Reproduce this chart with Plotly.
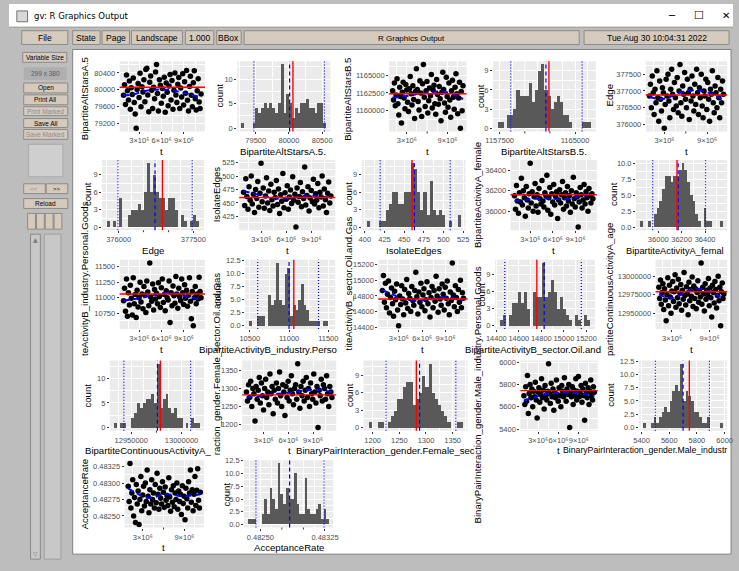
import plotly.graph_objects as go

W, H = 739, 571
FONT = "Liberation Sans, Arial, sans-serif"
TICK_SIZE = 7.5
TITLE_SIZE = 9.6

# ---------------------------------------------------------------- data
T_MILLIONS = [0.90, 1.03, 1.16, 1.29, 1.42, 1.55, 1.68, 1.81, 1.94, 2.07,
              2.20, 2.33, 2.46, 2.59, 2.72, 2.85, 2.98, 3.11, 3.24, 3.37,
              3.50, 3.63, 3.76, 3.89, 4.02, 4.15, 4.28, 4.41, 4.54, 4.67,
              4.80, 4.93, 5.06, 5.19, 5.32, 5.45, 5.58, 5.71, 5.84, 5.97,
              6.10, 6.23, 6.36, 6.49, 6.62, 6.75, 6.88, 7.01, 7.14, 7.27,
              7.40, 7.53, 7.66, 7.79, 7.92, 8.05, 8.18, 8.31, 8.44, 8.57,
              8.70, 8.83, 8.96, 9.09, 9.22, 9.35, 9.48, 9.61, 9.74, 9.87,
              10.00, 10.13, 10.26, 10.39, 10.52, 10.65, 10.78, 10.91, 11.04, 11.17, 11.30]
LOESS_T_MILLIONS = [0.9, 2.2, 3.5, 4.8, 6.1, 7.4, 8.7, 10.0, 11.3]
T_TICKS = [3e6, 6e6, 9e6]
T_LABELS3 = ["3×10⁶", "6×10⁶", "9×10⁶"]
T_LABELS2 = ["3×10⁶", "", "9×10⁶"]

ALT_A = [79870, 80120, 79650, 80350, 79980, 79760, 80210, 79540, 80050, 79890,
         80280, 79700, 79430, 79090, 80010, 80150, 79820, 80390, 79600, 80070,
         79950, 80240, 79720, 80480, 80510, 79880, 79480, 80180, 80330, 79990,
         79560, 80060, 79790, 80420, 80600, 79910, 79500, 80240, 80110, 79680,
         80030, 79850, 80300, 79470, 80160, 79940, 79620, 80090, 80360, 79760,
         80220, 79540, 79990, 80400, 79880, 79700, 80130, 80290, 79560, 80040,
         79830, 80380, 79640, 80190, 79920, 80460, 79750, 79500, 80080, 80320,
         79870, 79600, 80170, 80450, 79790, 79520, 79980, 80260, 79710, 79560, 79900]
ALT_A_LOESS = [79870, 79890, 79960, 80000, 80010, 79990, 79940, 79880, 79820]
ALT_A_TARGET = 80060
ALT_A_YTICKS = [79200, 79600, 80000, 80400]

ALT_B = [1162800, 1161500, 1163900, 1160700, 1162200, 1164500, 1161000, 1159400, 1163300, 1162000,
         1158300, 1162600, 1164000, 1161800, 1160300, 1163700, 1162900, 1161200, 1159900, 1163100,
         1164800, 1162400, 1160800, 1163500, 1161600, 1158900, 1162700, 1165900, 1163000, 1161300,
         1160100, 1164200, 1162500, 1159200, 1163800, 1166500, 1161900, 1160600, 1162800, 1164100,
         1159700, 1161400, 1163200, 1162100, 1165100, 1160400, 1162900, 1163600, 1161000, 1159500,
         1164400, 1162300, 1160900, 1163400, 1161700, 1158600, 1162600, 1165400, 1163000, 1161100,
         1159800, 1164700, 1162000, 1160500, 1163900, 1161500, 1159100, 1162800, 1164300, 1161900,
         1160200, 1163300, 1165200, 1162400, 1159600, 1161800, 1164000, 1157550, 1162700, 1160000, 1163500]
ALT_B_LOESS = [1161850, 1161950, 1162150, 1162400, 1162550, 1162700, 1162650, 1162200, 1161650]
ALT_B_TARGET = 1162400
ALT_B_YTICKS = [1160000, 1162500, 1165000]

EDGE = [376850, 377200, 376500, 377450, 376950, 376300, 377050, 376650, 377600, 376800,
        376100, 377300, 376750, 376400, 377100, 376950, 375890, 376600, 377350, 376850,
        377500, 376700, 376200, 377050, 377650, 376900, 376450, 377250, 376800, 376550,
        377400, 376350, 377000, 377790, 376650, 376250, 377150, 376900, 377550, 376750,
        376500, 377350, 376950, 376150, 377050, 376700, 377450, 376850, 376400, 377200,
        376600, 377650, 376950, 376300, 377100, 376800, 377500, 376550, 376200, 377000,
        376850, 377350, 376450, 377250, 376750, 376100, 377050, 376900, 377600, 376650,
        376350, 377150, 376950, 376500, 377400, 376800, 376200, 377050, 376650, 377300, 376900]
EDGE_LOESS = [376830, 376760, 376800, 376930, 377000, 377020, 376980, 376880, 376720]
EDGE_TARGET = 376880
EDGE_YTICKS = [376000, 376500, 377000, 377500]

ISOLATE = [470, 445, 495, 462, 438, 480, 455, 500, 448, 466,
           432, 475, 458, 490, 442, 468, 524, 452, 478, 440,
           463, 497, 450, 472, 436, 485, 456, 444, 470, 460,
           492, 447, 476, 430, 465, 453, 505, 441, 469, 457,
           482, 438, 461, 474, 449, 499, 455, 466, 405, 478,
           451, 462, 488, 443, 471, 458, 517, 446, 464, 480,
           435, 459, 473, 452, 494, 448, 467, 455, 486, 441,
           470, 461, 500, 444, 476, 456, 432, 468, 489, 450, 463]
ISOLATE_LOESS = [472, 467, 462, 458, 458, 461, 464, 462, 460]
ISOLATE_TARGET = 460
ISOLATE_YTICKS = [425, 450, 475, 500, 525]

FEMALE = [36150, 36020, 36250, 36100, 35980, 36180, 36090, 36320, 36060, 36200,
          36130, 35950, 36240, 36110, 36030, 36170, 36467, 36080, 36190, 36000,
          36140, 36270, 36050, 36160, 35990, 36220, 36120, 36070, 36300, 36100,
          36040, 36180, 36150, 36350, 36010, 36130, 36230, 35970, 36170, 36090,
          36260, 36060, 36140, 36190, 35930, 36110, 36210, 36080, 36160, 36290,
          36020, 36130, 36180, 36050, 36240, 36100, 36150, 35990, 36200, 36070,
          36330, 36120, 36040, 36180, 36140, 35846, 36090, 36230, 36160, 36030,
          36110, 36260, 36070, 36190, 36130, 36000, 36220, 36150, 36080, 36170, 36120]
FEMALE_LOESS = [36100, 36110, 36120, 36125, 36120, 36115, 36130, 36150, 36160]
FEMALE_TARGET = 36160
FEMALE_YTICKS = [36000, 36200, 36400]

PERSONAL = [10950, 11150, 10780, 11300, 10700, 11080, 10880, 11200, 10990, 10720,
            11320, 10900, 11050, 10680, 11120, 10850, 11000, 11250, 10930, 11060,
            10820, 11180, 11040, 10760, 11270, 11090, 10870, 11560, 11010, 10940,
            11220, 10800, 11130, 10980, 11070, 10900, 11240, 11020, 10840, 11160,
            11300, 10920, 11050, 10790, 11110, 11000, 10960, 11270, 10600, 11080,
            10870, 11190, 11030, 10910, 11340, 11060, 10830, 11150, 11010, 10950,
            11300, 11080, 10890, 11210, 10990, 11120, 10860, 11040, 11320, 10940,
            10660, 11100, 10545, 11000, 11180, 10900, 11060, 10980, 11330, 11100, 11000]
PERSONAL_LOESS = [10950, 10975, 11000, 11040, 11070, 11075, 11040, 11000, 10965]
PERSONAL_TARGET = 11060
PERSONAL_YTICKS = [10750, 11000, 11250, 11500]

OIL = [14870, 15060, 14720, 14960, 14650, 14820, 14990, 14580, 14780, 14900,
       14700, 14540, 14860, 14750, 14950, 14620, 14418, 14800, 14690, 14930,
       14760, 14560, 14880, 14710, 15010, 14640, 14830, 14770, 14600, 14920,
       14740, 14680, 14870, 15100, 14790, 14570, 14850, 14720, 14960, 14660,
       14810, 14890, 14610, 14750, 14980, 14700, 14840, 14530, 14780, 14920,
       14650, 14870, 14730, 15050, 14800, 14590, 14890, 14760, 14680, 14950,
       14820, 14620, 14910, 14770, 14990, 14700, 14560, 14850, 14740, 15220,
       14810, 14660, 14930, 14780, 14600, 14880, 14720, 15000, 14650, 14840, 14770]
OIL_LOESS = [14870, 14820, 14760, 14740, 14745, 14760, 14780, 14770, 14745]
OIL_TARGET = 14760
OIL_YTICKS = [14400, 14600, 14800, 15000, 15200]

AGE = [12985000, 12970000, 12995000, 12962000, 12978000, 12990000, 12955000, 12983000, 12968000, 12940000,
       12975000, 12998000, 12960000, 12988000, 12972000, 12950000, 12980000, 12993000, 12966000, 12979000,
       13002000, 12958000, 12984000, 12971000, 12996000, 12963000, 12977000, 12989000, 12954000, 12981000,
       12969000, 13005000, 12974000, 12961000, 12986000, 12976000, 12948000, 12992000, 12967000, 12982000,
       12973000, 12999000, 12959000, 12987000, 12970000, 12983000, 12956000, 12978000, 12994000, 12965000,
       12980000, 12972000, 13018000, 12962000, 12985000, 12976000, 12953000, 12990000, 12969000, 12981000,
       12975000, 12997000, 12960000, 12984000, 12971000, 12945000, 12988000, 12978000, 12964000, 12993000,
       12982000, 12957000, 12974000, 13000000, 12967000, 12985000, 12933000, 12979000, 12991000, 12970000, 12976000]
AGE_LOESS = [12975500, 12971500, 12971000, 12977000, 12982000, 12983000, 12980000, 12975000, 12970500]
AGE_TARGET = 12979000
AGE_YTICKS = [12950000, 12975000, 13000000]

FEM_SEC = [1290, 1265, 1310, 1275, 1320, 1250, 1300, 1285, 1210, 1305,
           1270, 1295, 1330, 1260, 1315, 1280, 1240, 1300, 1325, 1275,
           1290, 1255, 1340, 1285, 1305, 1230, 1295, 1270, 1315, 1260,
           1300, 1345, 1280, 1250, 1310, 1290, 1225, 1305, 1275, 1320,
           1265, 1295, 1335, 1285, 1255, 1300, 1310, 1270, 1368, 1290,
           1245, 1305, 1280, 1320, 1265, 1295, 1330, 1275, 1300, 1250,
           1315, 1285, 1270, 1340, 1290, 1260, 1305, 1192, 1295, 1280,
           1325, 1265, 1310, 1300, 1270, 1335, 1285, 1250, 1305, 1290, 1275]
FEM_SEC_LOESS = [1275, 1278, 1282, 1285, 1288, 1292, 1296, 1295, 1290]
FEM_SEC_TARGET = 1282
FEM_SEC_YTICKS = [1200, 1250, 1300, 1350]

MALE_IND = [5700, 5620, 5780, 5650, 5880, 5540, 5720, 5800, 5680, 5760,
            5600, 5740, 5690, 5820, 5660, 5500, 5730, 5770, 5640, 5710,
            5850, 5680, 5750, 5580, 5790, 5700, 5660, 5740, 5985, 5720,
            5630, 5810, 5690, 5760, 5570, 5730, 5680, 5840, 5710, 5650,
            5770, 5700, 5600, 5790, 5740, 5690, 5860, 5720, 5650, 5760,
            5710, 5800, 5415, 5730, 5690, 5780, 5620, 5750, 5700, 5850,
            5660, 5740, 5870, 5690, 5720, 5790, 5640, 5760, 5700, 5480,
            5810, 5730, 5680, 5770, 5620, 5740, 5840, 5700, 5660, 5780, 5730]
MALE_IND_LOESS = [5655, 5680, 5705, 5720, 5725, 5728, 5722, 5712, 5700]
MALE_IND_TARGET = 5745
MALE_IND_YTICKS = [5400, 5600, 5800, 6000]

ACC = [0.48295, 0.48272, 0.48330, 0.48262, 0.48285, 0.48305, 0.48250, 0.48278, 0.48240, 0.48298,
       0.48268, 0.48288, 0.48237, 0.48275, 0.48310, 0.48258, 0.48282, 0.48295, 0.48265, 0.48300,
       0.48272, 0.48320, 0.48280, 0.48255, 0.48290, 0.48268, 0.48305, 0.48275, 0.48285, 0.48262,
       0.48298, 0.48270, 0.48315, 0.48283, 0.48260, 0.48292, 0.48277, 0.48268, 0.48302, 0.48286,
       0.48263, 0.48294, 0.48274, 0.48281, 0.48266, 0.48308, 0.48279, 0.48257, 0.48290, 0.48271,
       0.48296, 0.48264, 0.48285, 0.48275, 0.48300, 0.48260, 0.48288, 0.48272, 0.48283, 0.48252,
       0.48296, 0.48269, 0.48280, 0.48244, 0.48292, 0.48276, 0.48262, 0.48302, 0.48285, 0.48320,
       0.48271, 0.48290, 0.48258, 0.48283, 0.48310, 0.48266, 0.48289, 0.48322, 0.48274, 0.48262, 0.48286]
ACC_LOESS = [0.48292, 0.48284, 0.48278, 0.48279, 0.48283, 0.48282, 0.48280, 0.48281, 0.48283]
ACC_YTICKS = [0.48250, 0.48275, 0.48300, 0.48325]

# histograms: first bin edge, bin width, 30 counts, mean, 2.5% and 97.5% quantiles
H_ALT_A = dict(start=79285, width=42.5,
               counts=[1, 0, 0, 0, 1, 4, 3, 4, 5, 4, 5, 4, 3, 5, 13, 3, 7, 5, 2, 4, 3, 5, 5, 6, 4, 4, 3, 5, 5, 1],
               mean=80010, lo=79472, hi=80535, xticks=[79500, 80000, 80500],
               xtext=["79500", "80000", "80500"])
H_ALT_B = dict(start=1157300, width=310,
               counts=[1, 1, 0, 2, 2, 3, 6, 5, 5, 5, 7, 4, 6, 9, 10, 6, 5, 3, 4, 5, 4, 2, 2, 1, 0, 0, 0, 1, 1, 1],
               mean=1162100, lo=1158600, hi=1165700, xticks=[1157500, 1160000, 1162500, 1165000],
               xtext=["1157500", "", "", "1165000"])
H_EDGE = dict(start=375760, width=62,
              counts=[1, 0, 1, 0, 5, 0, 0, 2, 3, 3, 4, 3, 6, 11, 6, 9, 6, 5, 5, 3, 5, 5, 3, 0, 2, 1, 0, 1, 2, 1],
              mean=376730, lo=375985, hi=377477, xticks=[376000, 376500, 377000, 377500],
              xtext=["376000", "", "", "377500"])
H_ISOLATE = dict(start=402, width=4,
                 counts=[1, 0, 0, 0, 1, 1, 3, 4, 6, 6, 4, 4, 6, 6, 11, 10, 6, 3, 6, 2, 8, 3, 2, 3, 2, 0, 1, 0, 0, 2],
                 mean=463, lo=419.5, hi=508.5, xticks=[400, 425, 450, 475, 500, 525],
                 xtext=["400", "425", "450", "475", "500", "525"])
H_FEMALE = dict(start=35845, width=23.6,
                counts=[1, 0, 0, 1, 0, 2, 3, 4, 6, 8, 8, 7, 8, 8, 9, 10, 9, 7, 5, 4, 2, 1, 0, 3, 1, 1, 0, 0, 0, 1],
                mean=36170, lo=35952, hi=36404, xticks=[36000, 36200, 36400],
                xtext=["36000", "36200", "36400"])
H_PERSONAL = dict(start=10492, width=34.8,
                  counts=[1, 0, 0, 2, 2, 2, 0, 6, 4, 5, 12, 5, 4, 10, 11, 2, 4, 3, 5, 8, 4, 3, 1, 1, 1, 1, 0, 1, 1, 0],
                  mean=11000, lo=10600, hi=11375, xticks=[10500, 11000, 11500],
                  xtext=["10500", "11000", "11500"])
H_OIL = dict(start=14428, width=26.9,
             counts=[1, 2, 0, 2, 4, 4, 6, 4, 6, 3, 0, 6, 5, 5, 11, 5, 6, 8, 6, 3, 5, 3, 2, 1, 0, 2, 1, 0, 2, 1],
             mean=14825, lo=14475, hi=15155, xticks=[14400, 14600, 14800, 15000, 15200],
             xtext=["14400", "14600", "14800", "15000", "15200"])
H_AGE = dict(start=12933000, width=2835,
             counts=[1, 0, 1, 1, 0, 0, 2, 3, 5, 4, 5, 6, 6, 7, 5, 13, 4, 6, 7, 4, 3, 4, 2, 2, 0, 1, 0, 2, 1, 1],
             mean=12976000, lo=12942600, hi=13009000, xticks=[12950000, 12975000, 13000000],
             xtext=["12950000", "", "13000000"])
H_FEM_SEC = dict(start=1192, width=5.9,
                 counts=[1, 0, 0, 1, 1, 0, 1, 2, 3, 5, 5, 7, 8, 8, 4, 5, 6, 9, 7, 11, 6, 5, 4, 3, 2, 1, 0, 0, 1, 1],
                 mean=1288, lo=1225, hi=1356, xticks=[1200, 1250, 1300, 1350],
                 xtext=["1200", "1250", "1300", "1350"])
H_MALE_IND = dict(start=5410, width=19.3,
                  counts=[1, 0, 0, 1, 2, 1, 2, 3, 4, 3, 5, 7, 8, 7, 12, 5, 7, 6, 5, 3, 3, 2, 1, 1, 2, 0, 0, 0, 0, 1],
                  mean=5700, lo=5500, hi=5890, xticks=[5400, 5600, 5800, 6000],
                  xtext=["5400", "5600", "5800", "6000"])
H_ACC = dict(start=0.48236, width=0.0000313,
             counts=[1, 1, 1, 0, 0, 2, 5, 2, 7, 5, 3, 12, 6, 4, 7, 5, 5, 10, 4, 2, 2, 9, 3, 2, 2, 3, 4, 1, 3, 1],
             mean=0.48284, lo=0.48245, hi=0.48324, xticks=[0.48250, 0.48275, 0.48300, 0.48325],
             xtext=["0.48250", "", "", "0.48325"])

# ---------------------------------------------------------------- panels (layout only)
def S(y, loess, target, yticks, ydec, box, tl, ylab, xlab):
    return dict(kind="scatter", y=y, loess=loess, target=target, yticks=yticks,
                ydec=ydec, box=box, tl=tl, ylab=ylab, xlab=xlab)


def Hh(h, target, yticks, ydec, box, ylab, xlab):
    return dict(kind="hist", h=h, target=target, yticks=yticks, ydec=ydec,
                box=box, ylab=ylab, xlab=xlab)


R1, R2, R3, R4, R5 = (58, 129), (158, 229), (259, 329), (361, 432), (462, 530)
PANELS = [
    S(ALT_A, ALT_A_LOESS, ALT_A_TARGET, ALT_A_YTICKS, 0, (113, 200) + R1, 3,
      ("BipartiteAltStarsA.5", 77, 96, 9.6), ("t", 156, 149, "center", 9.6)),
    Hh(H_ALT_A, ALT_A_TARGET, [0, 5, 10], 0, (233, 328) + R1,
       ("count", 215, 93, 9.6), ("BipartiteAltStarsA.5.", 280, 149, "center", 9.6)),
    S(ALT_B, ALT_B_LOESS, ALT_B_TARGET, ALT_B_YTICKS, 0, (388, 467) + R1, 2,
      ("BipartiteAltStarsB.5", 346, 96, 9.6), ("t", 427, 149, "center", 9.6)),
    Hh(H_ALT_B, ALT_B_TARGET, [0, 3, 6, 9], 0, (494, 599) + R1,
       ("count", 482, 93, 9.6), ("BipartiteAltStarsB.5.", 546, 149, "center", 9.6)),
    S(EDGE, EDGE_LOESS, EDGE_TARGET, EDGE_YTICKS, 0, (650, 733) + R1, 2,
      ("Edge", 613, 93, 9.6), ("t", 692, 149, "center", 9.6)),

    Hh(H_EDGE, EDGE_TARGET, [0, 3, 6, 9], 0, (95, 199) + R2,
       ("count", 80, 192, 9.6), ("Edge", 147, 250, "center", 9.6)),
    S(ISOLATE, ISOLATE_LOESS, ISOLATE_TARGET, ISOLATE_YTICKS, 0, (235, 333) + R2, 3,
      ("IsolateEdges", 212, 193, 9.6), ("t", 284, 250, "center", 9.6)),
    Hh(H_ISOLATE, ISOLATE_TARGET, [0, 3, 6, 9], 0, (360, 466) + R2,
       ("count", 347, 192, 9.6), ("IsolateEdges", 413, 250, "center", 9.6)),
    S(FEMALE, FEMALE_LOESS, FEMALE_TARGET, FEMALE_YTICKS, 0, (512, 600) + R2, 3,
      ("BipartiteActivityA_female", 478, 193, 9.6), ("t", 556, 250, "center", 9.6)),
    Hh(H_FEMALE, FEMALE_TARGET, [0, 2.5, 5, 7.5, 10], 1, (640, 733) + R2,
       ("count", 617, 192, 9.6), ("BipartiteActivityA_femal", 629, 250, "left", 9.3)),

    S(PERSONAL, PERSONAL_LOESS, PERSONAL_TARGET, PERSONAL_YTICKS, 0, (113, 200) + R3, 3,
      ("teActivityB_industry.Personal.Goods", 77, 278, 9.6), ("t", 156, 350, "center", 9.6)),
    Hh(H_PERSONAL, PERSONAL_TARGET, [0, 2.5, 5, 7.5, 10, 12.5], 1, (241, 333) + R3,
       ("count", 213, 294, 9.6), ("BipartiteActivityB_industry.Perso", 193, 350, "left", 9.6)),
    S(OIL, OIL_LOESS, OIL_TARGET, OIL_YTICKS, 0, (377, 468) + R3, 3,
      ("titeActivityB_sector.Oil.and.Gas", 347, 283, 9.6), ("t", 422, 350, "center", 9.6)),
    Hh(H_OIL, OIL_TARGET, [0, 3, 6, 9], 0, (496, 598) + R3,
       ("count", 482, 294, 9.6), ("BipartiteActivityB_sector.Oil.and", 464, 350, "left", 9.6)),
    S(AGE, AGE_LOESS, AGE_TARGET, AGE_YTICKS, 0, (660, 733) + R3, 2,
      ("partiteContinuousActivityA_age", 613, 289, 9.6), ("t", 697, 350, "center", 9.6)),

    Hh(H_AGE, AGE_TARGET, [0, 5, 10], 0, (103, 199) + R4,
       ("count", 80, 396, 9.6), ("BipartiteContinuousActivityA_", 77, 452, "left", 9.6)),
    S(FEM_SEC, FEM_SEC_LOESS, FEM_SEC_TARGET, FEM_SEC_YTICKS, 0, (238, 334) + R4, 3,
      ("raction_gender.Female_sector.Oil.and.Gas", 212, 364, 9.6), ("t", 286, 452, "center", 9.6)),
    Hh(H_FEM_SEC, FEM_SEC_TARGET, [0, 3, 6, 9], 0, (362, 468) + R4,
       ("count", 347, 396, 9.6), ("BinaryPairInteraction_gender.Female_sec", 292, 452, "left", 9.6)),
    S(MALE_IND, MALE_IND_LOESS, MALE_IND_TARGET, MALE_IND_YTICKS, 0, (522, 601) + R4, 3,
      ("BinaryPairInteraction_gender.Male_industry.Personal.Goods", 478, 396, 9.6),
      ("t", 561, 452, "center", 9.6)),
    Hh(H_MALE_IND, MALE_IND_TARGET, [0, 2.5, 5, 7.5, 10, 12.5], 1, (643, 733) + R4,
       ("count", 614, 396, 9.6), ("BinaryPairInteraction_gender.Male_industr", 564, 452, "left", 8.7)),

    S(ACC, ACC_LOESS, None, ACC_YTICKS, 5, (118, 199) + R5, 2,
      ("AcceptanceRate", 78, 496, 9.6), ("t", 158, 550, "center", 9.6)),
    Hh(H_ACC, None, [0, 2.5, 5, 7.5, 10, 12.5], 1, (240, 331) + R5,
       ("count", 222, 496, 9.6), ("AcceptanceRate", 286, 550, "center", 9.6)),
]

# ---------------------------------------------------------------- figure
fig = go.Figure()


def px_x(x):
    return x / W


def px_y(y):
    return 1 - y / H


def rect(x0, y0, x1, y1, fill, line=None, lw=1):
    fig.add_shape(type="rect", xref="paper", yref="paper",
                  x0=px_x(x0), x1=px_x(x1), y0=px_y(y1), y1=px_y(y0),
                  fillcolor=fill, line=dict(color=line if line else fill, width=lw if line else 0),
                  layer="below")


def text(t, x, y, size, color="black", angle=0, xanchor="center", family=FONT):
    fig.add_annotation(text=t, x=px_x(x), y=px_y(y), xref="paper", yref="paper",
                       showarrow=False, textangle=angle, xanchor=xanchor, yanchor="middle",
                       font=dict(size=size, color=color, family=family), borderpad=0)


BG = "#BDBDBD"
BTN = "#D5CABE"
BTN_LINE = "#8E8A86"

# window chrome
rect(0, 0, 739, 23, "#FFFFFF")
rect(0, 23, 739, 24, "#A0A0A0")
rect(8, 7, 19, 18, "#D8D8D8", "#707070", 1)
text("gv: R Graphics Output", 24, 12, 8.5, family="DejaVu Sans, sans-serif", xanchor="left")
text("─", 677, 12, 10, family="DejaVu Sans")
text("☐", 704, 12, 11, family="DejaVu Sans")
text("✕", 732, 12, 10, family="DejaVu Sans")

for (x0, x1, label) in [(13, 60, "File"), (65, 93, "State"), (95, 123, "Page"),
                        (125, 177, "Landscape"), (180, 209, "1.000"), (212, 237, "BBox"),
                        (240, 582, "R Graphics Output"), (587, 735, "Tue Aug 30 10:04:31 2022")]:
    rect(x0, 27, x1, 41, BTN, BTN_LINE)
    text(label, (x0 + x1) / 2, 34.5, 8.5 if x1 - x0 < 200 else 8)

rect(14, 49, 59, 59, BTN, BTN_LINE)
text("Variable Size", 36.5, 54, 6.5)
rect(15, 64, 59, 77, "#AFAFAF")
text("299 x 380", 37, 70.5, 6.5, color="#505A70")
for (y0, y1, label, col) in [(80, 90, "Open", "black"), (92, 102, "Print All", "black"),
                             (104, 113, "Print Marked", "#8C8C8C"), (116, 125, "Save All", "black"),
                             (127, 137, "Save Marked", "#8C8C8C")]:
    rect(15, y0, 60, y1, BTN, BTN_LINE)
    text(label, 37.5, (y0 + y1) / 2, 6.5, color=col)
rect(20, 142, 55, 175, "#CFCFCF", "#A8A8A8")
rect(15, 182, 37, 192, BTN, BTN_LINE)
text("&lt;&lt;", 26, 187, 6, color="#8C8C8C")
rect(38, 182, 60, 192, BTN, BTN_LINE)
text("&gt;&gt;", 49, 187, 6)
rect(15, 197, 60, 207, BTN, BTN_LINE)
text("Reload", 37.5, 202, 6.5)
for xx in (19, 28, 37, 46):
    rect(xx, 212, xx + 8, 228, BTN, BTN_LINE)
rect(22, 233, 32, 562, "#C8C8C8", "#8A8A8A")
text("▲", 27, 238, 6, color="#777777", family="DejaVu Sans")
text("▽", 27, 556, 6, color="#777777", family="DejaVu Sans")
rect(36, 233, 53, 562, "#C8C8C8", "#A0A0A0")

rect(65, 46, 737, 557, "#FFFFFF", "#808080", 1)

# panels
layout_axes = {}


def minor_of(ticks, rng):
    step = ticks[1] - ticks[0]
    vals = [ticks[0] - step / 2] + [a + step / 2 for a in ticks]
    return [v for v in vals if rng[0] <= v <= rng[1]]


def fmt(v, dec):
    return f"{v:.{dec}f}"


for i, p in enumerate(PANELS):
    n = i + 1
    sfx = "" if n == 1 else str(n)
    xr, yr = "x" + sfx, "y" + sfx
    x0, x1, y0, y1 = p["box"]
    fig.add_shape(type="rect", xref=xr + " domain", yref=yr + " domain", x0=0, x1=1, y0=0, y1=1,
                  fillcolor="#EBEBEB", line=dict(width=0), layer="below")
    if p["kind"] == "scatter":
        tt = [v * 1e6 for v in T_MILLIONS]
        ys = p["y"]
        lo, hi = min(ys), max(ys)
        pad = 0.05 * (hi - lo)
        yrange = [lo - pad, hi + pad]
        tpad = 0.05 * (max(tt) - min(tt))
        xrange = [min(tt) - tpad, max(tt) + tpad]
        xt_all, xtt_all = T_TICKS, (T_LABELS3 if p["tl"] == 3 else T_LABELS2)
        fig.add_trace(go.Scatter(x=tt, y=ys, mode="markers", xaxis=xr, yaxis=yr,
                                 marker=dict(color="black", size=5.5, line=dict(width=0)),
                                 hoverinfo="skip"))
        fig.add_trace(go.Scatter(x=[v * 1e6 for v in LOESS_T_MILLIONS], y=p["loess"],
                                 mode="lines", xaxis=xr, yaxis=yr, hoverinfo="skip",
                                 line=dict(color="#0000FF", width=2, dash="6px,4px", shape="spline")))
        if p["target"] is not None:
            fig.add_shape(type="line", xref=xr + " domain", yref=yr, x0=0, x1=1,
                          y0=p["target"], y1=p["target"], line=dict(color="#FF0000", width=1.4))
    else:
        h = p["h"]
        counts = h["counts"]
        nb = len(counts)
        centers = [h["start"] + h["width"] * (k + 0.5) for k in range(nb)]
        lo, hi = h["start"], h["start"] + h["width"] * nb
        pad = 0.05 * (hi - lo)
        xrange = [lo - pad, hi + pad]
        m = max(counts)
        yrange = [-0.05 * m, 1.05 * m]
        xt_all, xtt_all = h["xticks"], h["xtext"]
        fig.add_trace(go.Bar(x=centers, y=counts, width=[h["width"]] * nb, xaxis=xr, yaxis=yr,
                             marker=dict(color="#595959", line=dict(width=0)), hoverinfo="skip"))
        for val, col, dash in [(h["lo"], "#0000FF", "1px,2px"), (h["hi"], "#0000FF", "1px,2px"),
                               (h["mean"], "#0000FF", "4px,3px"), (p["target"], "#FF0000", "solid")]:
            if val is None:
                continue
            fig.add_shape(type="line", xref=xr, yref=yr + " domain", x0=val, x1=val, y0=0, y1=1,
                          line=dict(color=col, width=1.4 if col == "#FF0000" else 1.2, dash=dash))
    xt = [v for v, s in zip(xt_all, xtt_all) if s]
    xtt = [s for s in xtt_all if s]
    tick_frac = 2.0 / (y1 - y0)
    for v, s in zip(xt_all, xtt_all):
        if s:
            continue
        fig.add_shape(type="line", xref=xr, yref=yr + " domain", x0=v, x1=v, y0=0, y1=1,
                      line=dict(color="#FFFFFF", width=1), layer="below")
        fig.add_shape(type="line", xref=xr, yref=yr + " domain", x0=v, x1=v, y0=0, y1=-tick_frac,
                      line=dict(color="#333333", width=1))
    common = dict(showgrid=True, gridcolor="#FFFFFF", gridwidth=1, zeroline=False, showline=False,
                  ticks="outside", ticklen=2, tickwidth=1, tickcolor="#333333", tickangle=0,
                  tickfont=dict(size=TICK_SIZE, color="#4D4D4D", family=FONT), fixedrange=True,
                  tickmode="array")
    yt = p["yticks"]
    layout_axes["xaxis" + sfx] = dict(common, domain=[px_x(x0), px_x(x1)], range=xrange, anchor=yr,
                                      tickvals=xt, ticktext=xtt,
                                      minor=dict(tickmode="array", tickvals=minor_of(xt_all, xrange),
                                                 showgrid=True, gridcolor="#FFFFFF", gridwidth=0.5, ticks=""))
    layout_axes["yaxis" + sfx] = dict(common, domain=[px_y(y1), px_y(y0)], range=yrange, anchor=xr,
                                      tickvals=yt, ticktext=[fmt(v, p["ydec"]) for v in yt],
                                      minor=dict(tickmode="array", tickvals=minor_of(yt, yrange),
                                                 showgrid=True, gridcolor="#FFFFFF", gridwidth=0.5, ticks=""))
    yl = p["ylab"]
    text(yl[0], yl[1], yl[2], yl[3], angle=-90)
    xl = p["xlab"]
    text(xl[0], xl[1], xl[2], xl[4], xanchor=xl[3])

fig.update_layout(width=W, height=H, margin=dict(l=0, r=0, t=0, b=0, pad=0),
                  paper_bgcolor=BG, plot_bgcolor="rgba(0,0,0,0)", showlegend=False,
                  bargap=0, **layout_axes)
fig.write_html("out.html", config={"displayModeBar": False})
